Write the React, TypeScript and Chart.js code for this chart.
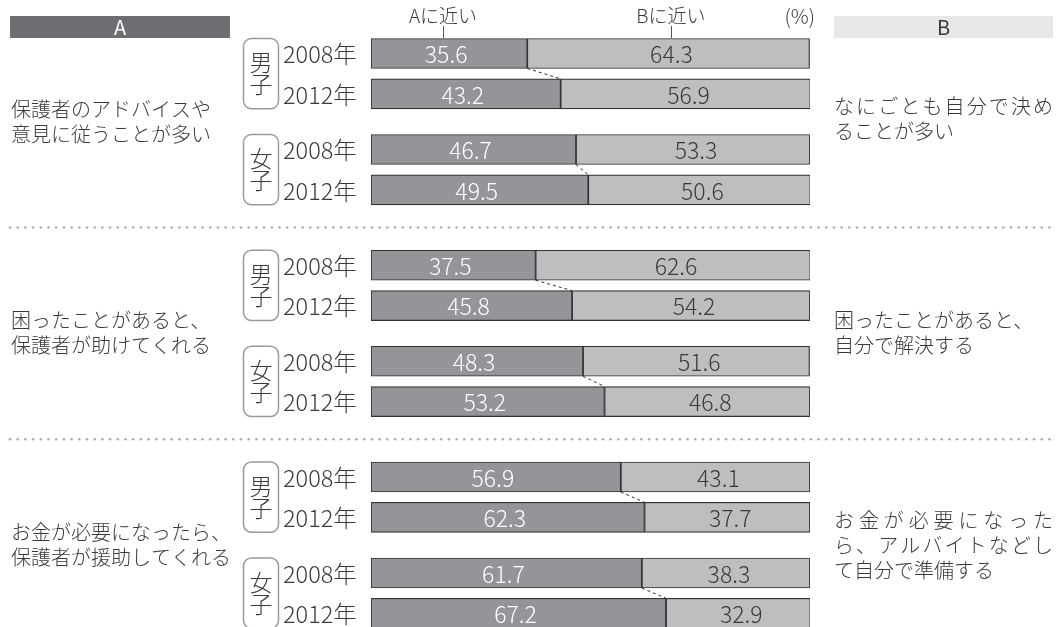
import React, { useEffect, useRef } from 'react';
import { Chart, registerables } from 'chart.js';

Chart.register(...registerables);

// ---- data ----
const headerA = 'A';
const headerB = 'B';
const nearA = 'Aに近い';
const nearB = 'Bに近い';
const unitLabel = '(%)';
const genders = ['男子', '女子'];
const years = ['2008年', '2012年'];
const questionsA = [
  ['保護者のアドバイスや', '意見に従うことが多い'],
  ['困ったことがあると、', '保護者が助けてくれる'],
  ['お金が必要になったら、', '保護者が援助してくれる'],
];
const questionsB = [
  ['なにごとも自分で決め', 'ることが多い'],
  ['困ったことがあると、', '自分で解決する'],
  ['お金が必要になった', 'ら、アルバイトなどし', 'て自分で準備する'],
];
const justifyB = [
  [true, false],
  [false, false],
  [true, true, false],
];
// order: q1 男子2008, 男子2012, 女子2008, 女子2012, q2 ..., q3 ...
const valuesA = [35.6, 43.2, 46.7, 49.5, 37.5, 45.8, 48.3, 53.2, 56.9, 62.3, 61.7, 67.2];
const valuesB = [64.3, 56.9, 53.3, 50.6, 62.6, 54.2, 51.6, 46.8, 43.1, 37.7, 38.3, 32.9];

// ---- layout (in row units) ----
const PITCH = 40.3;
const GENDER_STEP = 96 / PITCH;
const GROUP_STEP = 211.75 / PITCH;
const FIRST_Y = 53.5;
const H = 627;
const rowPos: number[] = [];
for (let g = 0; g < 3; g++)
  for (let s = 0; s < 2; s++)
    for (let y = 0; y < 2; y++) rowPos.push(g * GROUP_STEP + s * GENDER_STEP + y);

const FONT = "'Noto Sans CJK JP', 'Noto Sans', sans-serif";
const W = '300';
const TEXT = '#3a3a3a';
const DARK = '#939598';
const LIGHT = '#bcbec0';

const BAR_H = 30;

const decor = {
  id: 'decor',
  afterDraw(chart: any) {
    const ctx = chart.ctx as CanvasRenderingContext2D;
    const xs = chart.scales.x;
    const metaA = chart.getDatasetMeta(0);
    const metaB = chart.getDatasetMeta(1);
    const elA = metaA.data as any[];
    const elB = metaB.data as any[];
    ctx.save();

    // headers
    ctx.fillStyle = '#6d6e71';
    ctx.fillRect(10, 16, 220, 22);
    ctx.fillStyle = '#e6e7e8';
    ctx.fillRect(834, 16, 219, 22);
    ctx.textAlign = 'center';
    ctx.textBaseline = 'middle';
    ctx.font = `400 20px ${FONT}`;
    ctx.fillStyle = '#ffffff';
    ctx.fillText(headerA, 120, 27.5);
    ctx.fillStyle = TEXT;
    ctx.fillText(headerB, 943.5, 27.5);

    // top labels
    const xa = xs.getPixelForValue(16.4);
    const xb = xs.getPixelForValue(68.3);
    ctx.font = `${W} 19px ${FONT}`;
    ctx.fillStyle = TEXT;
    ctx.fillText(nearA, xa, 16);
    ctx.fillText(nearB, xb, 16);
    ctx.textAlign = 'right';
    ctx.font = `${W} 20px ${FONT}`;
    ctx.fillText(unitLabel, 815, 16);
    ctx.strokeStyle = '#555';
    ctx.lineWidth = 1;
    ctx.beginPath();
    ctx.moveTo(Math.round(xa) + 0.5, 26);
    ctx.lineTo(Math.round(xa) + 0.5, 38);
    ctx.moveTo(Math.round(xb) + 0.5, 26);
    ctx.lineTo(Math.round(xb) + 0.5, 38);
    ctx.stroke();

    // value labels
    ctx.textAlign = 'center';
    ctx.font = `${W} 23px ${FONT}`;
    for (let i = 0; i < elA.length; i++) {
      const a = elA[i];
      const b = elB[i];
      ctx.fillStyle = '#ffffff';
      ctx.fillText(valuesA[i].toFixed(1), (a.x + a.base) / 2 - 3, a.y + 1);
      ctx.fillStyle = TEXT;
      ctx.fillText(valuesB[i].toFixed(1), (b.x + b.base) / 2 + 3, b.y + 1);
    }

    // dashed connectors
    ctx.strokeStyle = '#333';
    ctx.lineWidth = 1;
    ctx.setLineDash([3, 3]);
    for (let k = 0; k < elA.length; k += 2) {
      const u = elA[k];
      const d = elA[k + 1];
      ctx.beginPath();
      ctx.moveTo(u.x, u.y + BAR_H / 2);
      ctx.lineTo(d.x, d.y - BAR_H / 2);
      ctx.stroke();
    }
    ctx.setLineDash([]);

    // year labels & gender brackets
    ctx.textAlign = 'left';
    ctx.fillStyle = TEXT;
    for (let k = 0; k < elA.length; k += 2) {
      const u = elA[k];
      const d = elA[k + 1];
      ctx.font = `${W} 23.5px ${FONT}`;
      ctx.fillText(years[0], 283, u.y + 1);
      ctx.fillText(years[1], 283, d.y + 1);
      const top = u.y - BAR_H / 2;
      const bot = d.y + BAR_H / 2;
      ctx.strokeStyle = '#9a9a9a';
      ctx.lineWidth = 1.5;
      ctx.beginPath();
      (ctx as any).roundRect(243.5, top, 35, bot - top, 8);
      ctx.stroke();
      const g = genders[(k / 2) % 2];
      const cy = (top + bot) / 2;
      ctx.textAlign = 'center';
      ctx.font = `${W} 23px ${FONT}`;
      ctx.fillText(g[0], 261, cy - 11);
      ctx.fillText(g[1], 261, cy + 11);
      ctx.textAlign = 'left';
    }

    // question texts & separators
    for (let g = 0; g < 3; g++) {
      const first = elA[g * 4];
      const last = elA[g * 4 + 3];
      const cy = (first.y + last.y) / 2;
      ctx.font = `${W} 20px ${FONT}`;
      ctx.fillStyle = TEXT;
      ctx.textAlign = 'left';
      const la = questionsA[g];
      la.forEach((line, i) => {
        ctx.fillText(line, 11, cy + (i - (la.length - 1) / 2) * 25);
      });
      const lb = questionsB[g];
      const shift = g === 0 ? -3 : 0;
      lb.forEach((line, i) => {
        const y = cy + shift + (i - (lb.length - 1) / 2) * 25;
        if (justifyB[g][i]) {
          const chars = Array.from(line);
          const x0 = 834;
          const x1 = 1053;
          const lastW = ctx.measureText(chars[chars.length - 1]).width;
          const step = (x1 - x0 - lastW) / (chars.length - 1);
          chars.forEach((c, j) => ctx.fillText(c, x0 + j * step, y));
        } else {
          ctx.fillText(line, 834, y);
        }
      });
      if (g < 2) {
        const next = elA[(g + 1) * 4];
        const sy = (last.y + BAR_H / 2 + next.y - BAR_H / 2) / 2;
        ctx.fillStyle = '#adadad';
        for (let x = 10; x <= 1054; x += 7.7) {
          ctx.beginPath();
          ctx.arc(x, sy, 1.3, 0, Math.PI * 2);
          ctx.fill();
        }
      }
    }
    ctx.restore();
  },
};

export default function App() {
  const ref = useRef<HTMLCanvasElement | null>(null);
  useEffect(() => {
    if (!ref.current) return;
    const yMin = -FIRST_Y / PITCH;
    const yMax = yMin + H / PITCH;
    const chart = new Chart(ref.current, {
      type: 'bar',
      data: {
        datasets: [
          {
            label: 'A',
            data: valuesA.map((v, i) => ({ x: v, y: rowPos[i] })),
            backgroundColor: DARK,
            borderColor: '#333',
            borderWidth: 1.2,
            borderSkipped: false,
            barThickness: BAR_H,
          },
          {
            label: 'B',
            data: valuesB.map((v, i) => ({ x: v, y: rowPos[i] })),
            backgroundColor: LIGHT,
            borderColor: '#333',
            borderWidth: 1.2,
            borderSkipped: false,
            barThickness: BAR_H,
          },
        ],
      } as any,
      options: {
        indexAxis: 'y',
        animation: false,
        responsive: false,
        events: [],
        layout: { padding: { left: 371, right: 251, top: 0, bottom: 0 } },
        plugins: { legend: { display: false }, tooltip: { enabled: false } },
        scales: {
          x: { type: 'linear', min: 0, max: 100, stacked: true, display: false, offset: false },
          y: { type: 'linear', min: yMin, max: yMax, reverse: true, stacked: true, display: false, offset: false },
        },
      } as any,
      plugins: [decor],
    });
    return () => chart.destroy();
  }, []);
  return (
    <div style={{ position: 'absolute', left: 0, top: 0, width: 1061, height: 627, background: '#fff' }}>
      <canvas ref={ref} width={1061} height={627} />
    </div>
  );
}
